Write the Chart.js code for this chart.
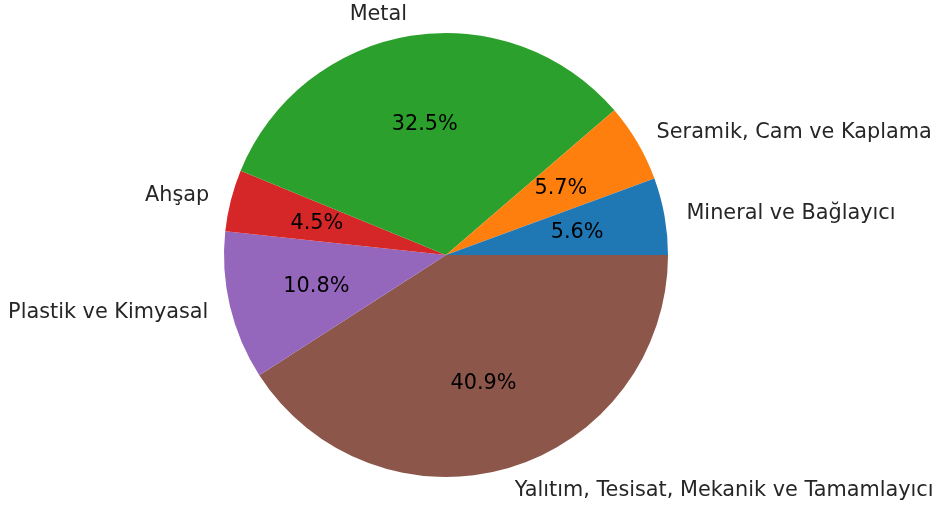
<!DOCTYPE html>
<html>
<head>
<meta charset="utf-8">
<script src="https://cdn.jsdelivr.net/npm/chart.js@4"></script>
<style>
  html, body { margin: 0; padding: 0; background: #fff; }
  #wrap { width: 939px; height: 507px; }
</style>
</head>
<body>
<div id="wrap"><canvas id="pieChart" width="939" height="507"></canvas></div>
<script>
// categories and shares (matplotlib order: counter-clockwise from 3 o'clock)
const categories = ['Mineral ve Bağlayıcı', 'Seramik, Cam ve Kaplama', 'Metal', 'Ahşap', 'Plastik ve Kimyasal', 'Yalıtım, Tesisat, Mekanik ve Tamamlayıcı'];
const shares = [5.6, 5.7, 32.5, 4.5, 10.8, 40.9];
const colors = ['#1f77b4', '#ff7f0e', '#2ca02c', '#d62728', '#9467bd', '#8c564b'];

// Chart.js draws clockwise, so reverse to get matplotlib's counter-clockwise look
const labelsRev = categories.slice().reverse();
const sharesRev = shares.slice().reverse();
const colorsRev = colors.slice().reverse();

const FONT = '"DejaVu Sans", sans-serif';

// labels at 1.1r outside, percentages at 0.6r inside (like plt.pie autopct)
const pieLabels = {
    id: 'pieLabels',
    afterDatasetsDraw(chart) {
        const ctx = chart.ctx;
        const meta = chart.getDatasetMeta(0);
        const total = sharesRev.reduce((a, b) => a + b, 0);
        ctx.save();
        ctx.font = '20.8px ' + FONT;
        ctx.textBaseline = 'middle';
        meta.data.forEach((arc, i) => {
            const mid = (arc.startAngle + arc.endAngle) / 2;
            const r = arc.outerRadius;
            const c = Math.cos(mid), s = Math.sin(mid);
            // outer label
            ctx.fillStyle = '#262626';
            ctx.textAlign = c > 0 ? 'left' : 'right';
            ctx.fillText(labelsRev[i], arc.x + 1.1 * r * c, arc.y + 1.1 * r * s + 1);
            // percentage
            ctx.fillStyle = '#000';
            ctx.textAlign = 'center';
            const pct = (sharesRev[i] / total * 100).toFixed(1) + '%';
            ctx.fillText(pct, arc.x + 0.6 * r * c, arc.y + 0.6 * r * s + 1);
        });
        ctx.restore();
    }
};

new Chart(document.getElementById('pieChart').getContext('2d'), {
    type: 'pie',
    data: {
        labels: labelsRev,
        datasets: [{
            data: sharesRev,
            backgroundColor: colorsRev,
            borderWidth: 0
        }]
    },
    options: {
        responsive: false,
        animation: false,
        rotation: 90,
        layout: { padding: { left: 224, right: 271, top: 33, bottom: 30 } },
        plugins: {
            legend: { display: false },
            tooltip: { enabled: false }
        }
    },
    plugins: [pieLabels]
});
</script>
</body>
</html>
